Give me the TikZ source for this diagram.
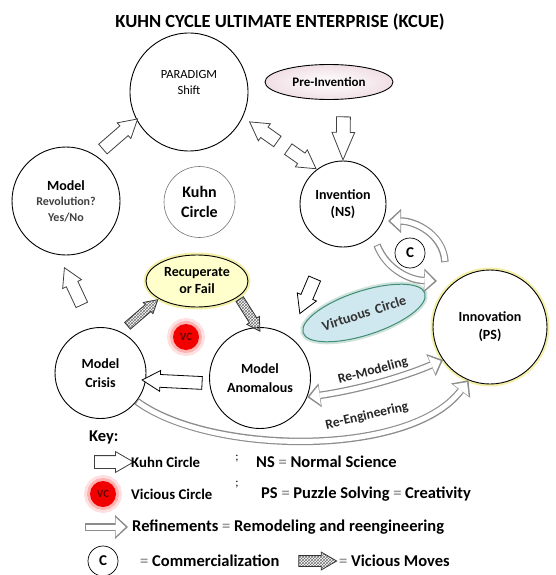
\documentclass[tikz,border=0pt]{standalone}
\usepackage{fontspec}
\setmainfont{Carlito}
\usetikzlibrary{shapes.geometric,shapes.arrows,arrows.meta,patterns}

\definecolor{vcfill}{HTML}{CFE7EE}
\definecolor{vcedge}{HTML}{3F8E74}
\definecolor{recfill}{HTML}{FFFFCC}
\definecolor{pinkfill}{HTML}{F0DFE5}
\definecolor{glowyel}{HTML}{F3EFA6}

\newcommand{\keyeq}{\textcolor{black!40}{=}}

\tikzset{
  circ/.style={circle, draw, line width=0.9pt, fill=white, inner sep=0pt, align=center,
    font=\fontsize{14}{18}\selectfont\bfseries},
  kuhnarrow/.style={single arrow, draw=black!75, fill=white, line width=0.8pt, inner xsep=0pt, inner ysep=6pt,
    single arrow head extend=4pt, single arrow tip angle=60, sloped, allow upside down},
  viciousarrow/.style={kuhnarrow, draw=black!80, pattern=crosshatch, pattern color=black!55,
    inner ysep=4pt, single arrow head extend=3pt},
  refine/.style={draw=black!45, line width=7.5pt, -{Triangle[length=13pt 0 0,width=24pt 0 0,line width=0pt]},
    postaction={draw=white, line width=5pt, shorten >=2.4pt, shorten <=1pt,
      -{Triangle[length=10pt 0 0,width=19pt 0 0,line width=0pt]}}},
  refine2/.style={draw=black!45, line width=7.5pt,
    {Triangle[length=13pt 0 0,width=24pt 0 0,line width=0pt]}-{Triangle[length=13pt 0 0,width=24pt 0 0,line width=0pt]},
    postaction={draw=white, line width=5pt, shorten >=2.4pt, shorten <=2.4pt,
      {Triangle[length=10pt 0 0,width=19pt 0 0,line width=0pt]}-{Triangle[length=10pt 0 0,width=19pt 0 0,line width=0pt]}}},
  keytext/.style={anchor=west, inner sep=0pt, font=\fontsize{16.5}{18}\selectfont\bfseries},
  vcball/.style={circle, fill=red!95!black, minimum size=26pt, inner sep=0pt,
    preaction={draw=red!12, line width=12pt}, preaction={draw=red!30, line width=6pt},
    text=red!40!black, font=\fontsize{11}{12}\selectfont\bfseries},
  cball/.style={circle, draw, line width=0.7pt, fill=white, minimum size=30pt, inner sep=0pt,
    font=\fontsize{15}{16}\selectfont\bfseries}
}

\begin{document}
\begin{tikzpicture}[x=1pt, y=-1pt]
\useasboundingbox (0,0) rectangle (555,575);

\node[font=\fontsize{18.5}{20}\selectfont\bfseries] (title) at (280,22) {KUHN CYCLE ULTIMATE ENTERPRISE (KCUE)};

% Kuhn circle
\node[circ, minimum size=118pt] (paradigm) at (189,92) {};
\node[font=\fontsize{12.5}{16}\selectfont, align=center] (paradigmtxt) at (189,82) {PARADIGM\\Shift};
\node[circ, minimum size=108pt, font=\fontsize{12}{15.5}\selectfont\bfseries] (mrev) at (66,201)
  {{\fontsize{14}{15.5}\selectfont Model}\\\textcolor{black!75}{Revolution?}\\\textcolor{black!75}{Yes/No}};
\node[circ, minimum size=71pt, draw=black!55, line width=0.6pt, font=\fontsize{16}{20}\selectfont\bfseries] (kuhn) at (199.5,202) {Kuhn\\Circle};
\node[ellipse, draw, line width=0.9pt, inner color=white, outer color=pinkfill, minimum width=128pt, minimum height=35pt,
  inner sep=0pt, font=\fontsize{13}{15}\selectfont\bfseries] (preinv) at (329,82) {Pre-Invention};
\node[circ, minimum size=86pt, font=\fontsize{14}{17}\selectfont\bfseries] (invention) at (343,204) {Invention\\(NS)};
\node[circ, minimum size=91pt, font=\fontsize{14}{19}\selectfont\bfseries] (mcrisis) at (100.5,373) {Model\\Crisis};
\node[circ, minimum size=101pt, font=\fontsize{14}{19}\selectfont\bfseries] (anomalous) at (260,378) {Model\\Anomalous};
\node[circ, minimum size=114pt, preaction={draw=glowyel, line width=5pt}] (innovation) at (490,327) {Innovation\\(PS)};

% vicious circle
\node[ellipse, draw, line width=0.9pt, fill=recfill, preaction={draw=glowyel, line width=5pt},
  minimum width=102pt, minimum height=52pt, inner sep=0pt, align=center,
  font=\fontsize{14}{17}\selectfont\bfseries] (recup) at (197,281) {Recuperate\\or Fail};
\node[vcball] (vc) at (186,337) {VC};

% virtuous circle
\node[ellipse, draw=vcedge, line width=1pt, fill=vcfill, preaction={draw=vcedge!25, line width=5pt},
  minimum width=128pt, minimum height=44pt, inner sep=0pt, rotate=18,
  font=\fontsize{14}{16}\selectfont\bfseries, text=black!80] (virtuous) at (364,313) {Virtuous\hspace{2.5pt} Circle};
\node[cball] (comm) at (410,253) {C};

% block arrows
\path (mrev.57) -- node[kuhnarrow, minimum height=46pt] (a1) {} (paradigm.208);
\path (invention.127) -- node[kuhnarrow, pos=.66, minimum height=34pt] (a2) {} (paradigm.-25);
\path (paradigm.-25) -- node[kuhnarrow, pos=.74, minimum height=34pt] (a3) {} (invention.127);
\path (preinv.-50) -- node[kuhnarrow, minimum height=43pt, inner ysep=6.5pt, single arrow head extend=4.5pt,
  single arrow tip angle=45] (a4) {} (invention.north);
\path (invention.-109) -- node[kuhnarrow, draw=black, minimum height=38pt] (a5) {} (anomalous.54);
\path (anomalous.186) -- node[kuhnarrow, draw=black, minimum height=60pt] (a6) {} (mcrisis.-9);
\path (mcrisis.100) -- node[kuhnarrow, minimum height=41pt] (a7) {} (mrev.-98);
\path (mcrisis.64) -- node[viciousarrow, minimum height=40pt] (v1) {} (recup.205);
\path (recup.-21) -- node[viciousarrow, minimum height=38pt] (v2) {} (anomalous.93);

% refinements
\coordinate (ref1s) at (445,262);
\coordinate (ref1e) at (388,221);
\coordinate (ref2s) at (377,245);
\coordinate (ref2e) at (437,281);
\draw[refine] (ref1s) .. controls (443,234) and (415,221) .. (ref1e);
\draw[refine] (ref2s) .. controls (386,268) and (408,280) .. (ref2e);
\draw[refine2] (anomalous.-22) .. controls (353.8,390.5) and (399.5,378.5) .. (innovation.215);
\draw[refine] (mcrisis.-38) .. controls (210,455) and (410,458) .. (innovation.248);
\node[rotate=15, font=\fontsize{13.5}{15}\selectfont\bfseries, text=black!85] (remodtxt) at (373,371) {Re-Modeling};
\node[rotate=13, font=\fontsize{13.5}{15}\selectfont\bfseries, text=black!85] (reengtxt) at (367,416) {Re-Engineering};

% key
\node[keytext] (keytitle) at (89,437) {Key:};
\node[kuhnarrow, minimum height=39pt] (keykuhn) at (108.5,462) {};
\node[keytext, font=\fontsize{14.8}{16}\selectfont\bfseries] (keykuhntxt) at (131,462) {Kuhn Circle};
\node[font=\fontsize{12}{13}\selectfont] (semi1) at (237,459) {;};
\node[keytext] (keyns) at (256,462) {NS \keyeq{} Normal Science};
\node[vcball] (keyvc) at (103,494) {VC};
\node[keytext, font=\fontsize{14.8}{16}\selectfont\bfseries] (keyvctxt) at (131,494) {Vicious Circle};
\node[font=\fontsize{12}{13}\selectfont] (semi2) at (237,485) {;};
\node[keytext] (keyps) at (261,494) {PS \keyeq{} Puzzle Solving \keyeq{} Creativity};
\coordinate (keyrs) at (85,527);
\coordinate (keyre) at (128,527);
\draw[refine] (keyrs) -- (keyre);
\node[keytext] (keyref) at (132,527) {Refinements \keyeq{} Remodeling and reengineering};
\node[cball] (keyc) at (103,561) {C};
\node[keytext] (keyctxt) at (140,561) {\keyeq{} Commercialization};
\node[viciousarrow, minimum height=38pt, inner ysep=5pt, single arrow head extend=3.5pt] (keyvic) at (313,561) {};
\node[keytext] (keyvictxt) at (339,561) {\keyeq{} Vicious Moves};
\end{tikzpicture}
\end{document}
